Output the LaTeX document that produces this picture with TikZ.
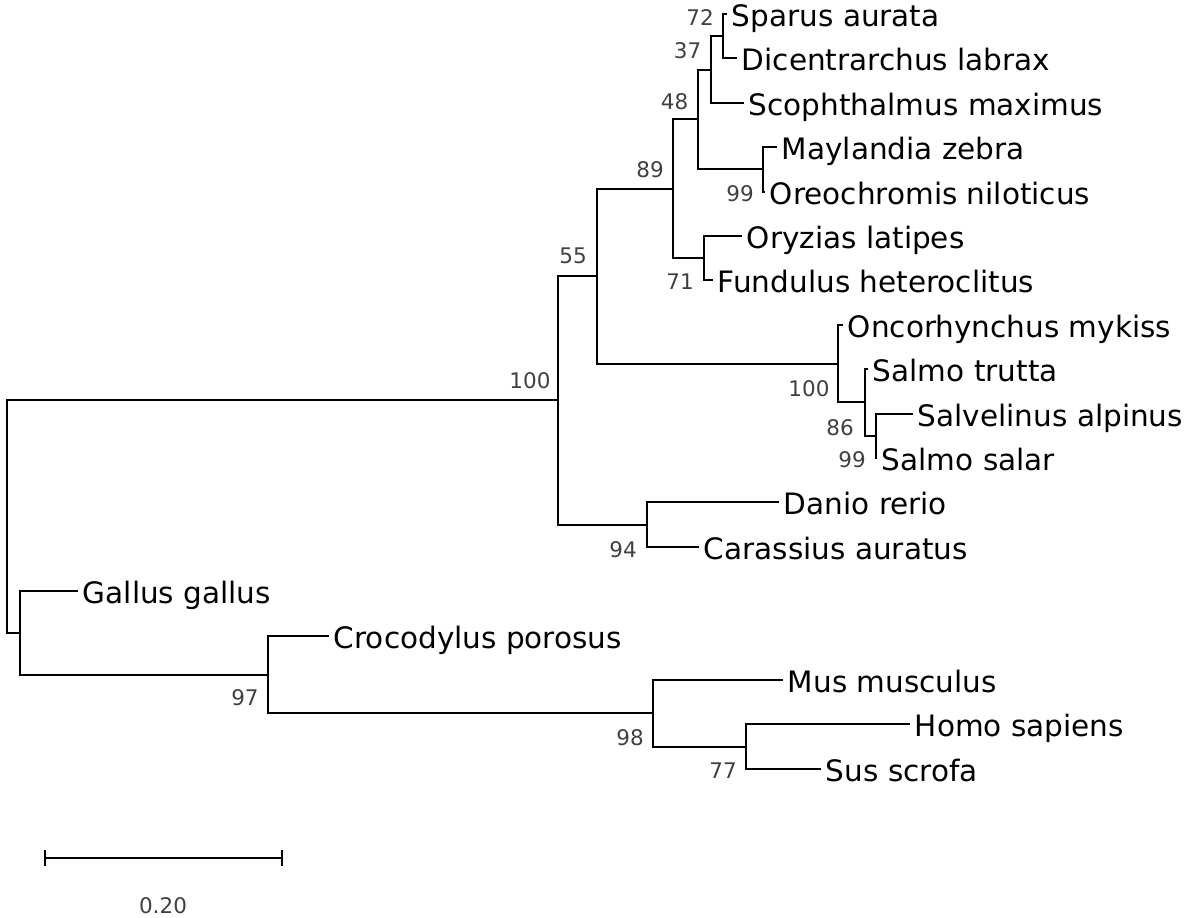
\documentclass[tikz,border=0pt]{standalone}
\usepackage{fontspec}
\setmainfont{DejaVu Sans}
\usetikzlibrary{positioning}
\definecolor{bootgray}{RGB}{64,64,64}

\begin{document}
\begin{tikzpicture}[x=1pt, y=-1pt, line width=1.8pt,
    leaf/.style={inner sep=0pt, anchor=west, text height=22pt, text depth=7pt,
        font=\fontsize{29.5}{35}\selectfont},
    boot/.style={inner sep=0pt, text=bootgray, font=\fontsize{21.5}{26}\selectfont}
]
    \useasboundingbox (0,0) rectangle (1200,918);

    % internal nodes
    \coordinate (root) at (7,517);
    \coordinate (nFish) at (558,400);
    \coordinate (n55) at (597,276);
    \coordinate (n89) at (673,189);
    \coordinate (n48) at (698,119);
    \coordinate (n37) at (711,70);
    \coordinate (n72) at (723,36);
    \coordinate (nCich) at (763,169);
    \coordinate (nOry) at (704,258);
    \coordinate (nSalm) at (838,364);
    \coordinate (n86) at (865,402);
    \coordinate (n99s) at (876,436);
    \coordinate (nDan) at (647,525);
    \coordinate (nTetra) at (20,633);
    \coordinate (n97) at (268,675);
    \coordinate (n98) at (653,713);
    \coordinate (n77) at (746,747);

    % tips
    \coordinate (tSpa) at (727,14);
    \coordinate (tDic) at (737,58);
    \coordinate (tSco) at (744,103);
    \coordinate (tMay) at (777,147);
    \coordinate (tOre) at (765,192);
    \coordinate (tOry) at (742,236);
    \coordinate (tFun) at (713,280);
    \coordinate (tOnc) at (843,325);
    \coordinate (tStr) at (868,369);
    \coordinate (tSal) at (913,414);
    \coordinate (tSsa) at (877,458);
    \coordinate (tDan) at (779,502);
    \coordinate (tCar) at (699,547);
    \coordinate (tGal) at (78,591);
    \coordinate (tCro) at (329,636);
    \coordinate (tMus) at (783,680);
    \coordinate (tHom) at (910,724);
    \coordinate (tSus) at (821,769);

    \node[leaf, right=4pt of tSpa, yshift=-5pt] (spa) {Sparus aurata};
    \node[leaf, right=4pt of tDic, yshift=-5pt] (dic) {Dicentrarchus labrax};
    \node[leaf, right=4pt of tSco, yshift=-5pt] (sco) {Scophthalmus maximus};
    \node[leaf, right=4pt of tMay, yshift=-5pt] (may) {Maylandia zebra};
    \node[leaf, right=4pt of tOre, yshift=-5pt] (ore) {Oreochromis niloticus};
    \node[leaf, right=4pt of tOry, yshift=-5pt] (ory) {Oryzias latipes};
    \node[leaf, right=4pt of tFun, yshift=-5pt] (fun) {Fundulus heteroclitus};
    \node[leaf, right=4pt of tOnc, yshift=-5pt] (onc) {Oncorhynchus mykiss};
    \node[leaf, right=4pt of tStr, yshift=-5pt] (str) {Salmo trutta};
    \node[leaf, right=4pt of tSal, yshift=-5pt] (sal) {Salvelinus alpinus};
    \node[leaf, right=4pt of tSsa, yshift=-5pt] (ssa) {Salmo salar};
    \node[leaf, right=4pt of tDan, yshift=-5pt] (dan) {Danio rerio};
    \node[leaf, right=4pt of tCar, yshift=-5pt] (car) {Carassius auratus};
    \node[leaf, right=4pt of tGal, yshift=-5pt] (gal) {Gallus gallus};
    \node[leaf, right=4pt of tCro, yshift=-5pt] (cro) {Crocodylus porosus};
    \node[leaf, right=4pt of tMus, yshift=-5pt] (mus) {Mus musculus};
    \node[leaf, right=4pt of tHom, yshift=-5pt] (hom) {Homo sapiens};
    \node[leaf, right=4pt of tSus, yshift=-5pt] (sus) {Sus scrofa};

    % branches
    \draw (root) |- (nFish) (root) |- (nTetra);
    \draw (nFish) |- (n55) (nFish) |- (nDan);
    \draw (n55) |- (n89) (n55) |- (nSalm);
    \draw (n89) |- (n48) (n89) |- (nOry);
    \draw (n48) |- (n37) (n48) |- (nCich);
    \draw (n37) |- (n72) (n37) |- (tSco);
    \draw (n72) |- (tSpa) (n72) |- (tDic);
    \draw (nCich) |- (tMay) (nCich) |- (tOre);
    \draw (nOry) |- (tOry) (nOry) |- (tFun);
    \draw (nSalm) |- (tOnc) (nSalm) |- (n86);
    \draw (n86) |- (tStr) (n86) |- (n99s);
    \draw (n99s) |- (tSal) (n99s) |- (tSsa);
    \draw (nDan) |- (tDan) (nDan) |- (tCar);
    \draw (nTetra) |- (tGal) (nTetra) |- (n97);
    \draw (n97) |- (tCro) (n97) |- (n98);
    \draw (n98) |- (tMus) (n98) |- (n77);
    \draw (n77) |- (tHom) (n77) |- (tSus);

    % bootstrap values
    \node[boot] (b72) at (700,17.5) {72};
    \node[boot] (b37) at (687.5,51) {37};
    \node[boot] (b48) at (674.5,102) {48};
    \node[boot] (b89) at (650,169.5) {89};
    \node[boot] (b99c) at (740,193.5) {99};
    \node[boot] (b71) at (680,281.5) {71};
    \node[boot] (b55) at (573,256) {55};
    \node[boot] (b100s) at (809,389) {100};
    \node[boot] (b86) at (840,427.5) {86};
    \node[boot] (b99s) at (852,460) {99};
    \node[boot] (b100f) at (530,381) {100};
    \node[boot] (b94) at (623,549.5) {94};
    \node[boot] (b97) at (245,698) {97};
    \node[boot] (b98) at (630,737.5) {98};
    \node[boot] (b77) at (723,770.5) {77};

    % scale bar
    \coordinate (sbL) at (45,858);
    \coordinate (sbR) at (282,858);
    \draw (sbL) -- (sbR);
    \draw ([yshift=8pt]sbL) -- ([yshift=-8pt]sbL);
    \draw ([yshift=8pt]sbR) -- ([yshift=-8pt]sbR);
    \node[boot] (sbT) at (163,906) {0.20};
\end{tikzpicture}
\end{document}
